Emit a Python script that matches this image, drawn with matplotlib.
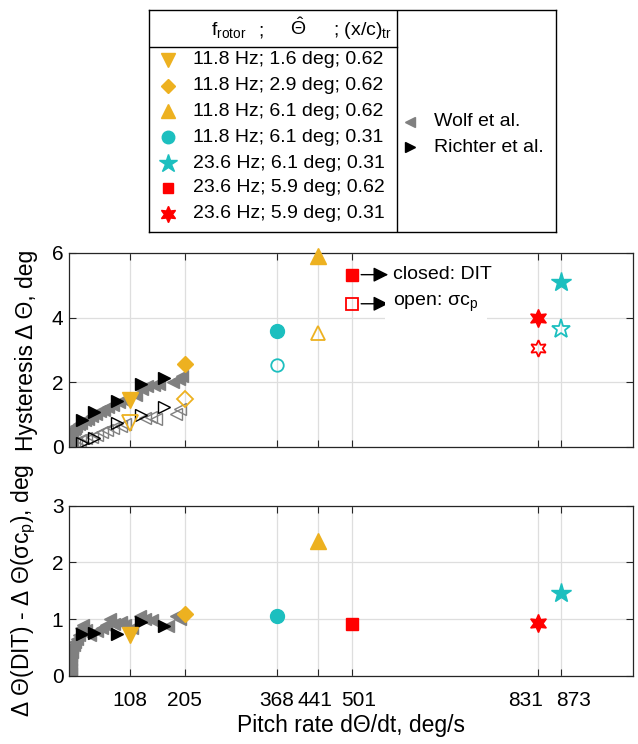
import matplotlib
matplotlib.use("Agg")
import matplotlib.pyplot as plt

plt.rcParams['font.family'] = ['Liberation Sans', 'DejaVu Sans']
plt.rcParams['mathtext.fontset'] = 'custom'
plt.rcParams['mathtext.rm'] = 'Liberation Sans'
plt.rcParams['mathtext.it'] = 'Liberation Sans:italic'

# --- data ---
cases = ["11.8 Hz; 1.6 deg; 0.62", "11.8 Hz; 2.9 deg; 0.62", "11.8 Hz; 6.1 deg; 0.62",
         "11.8 Hz; 6.1 deg; 0.31", "23.6 Hz; 6.1 deg; 0.31", "23.6 Hz; 5.9 deg; 0.62",
         "23.6 Hz; 5.9 deg; 0.31"]
case_rate = [108, 205, 441, 368, 873, 501, 831]
case_dit = [1.45, 2.57, 5.90, 3.59, 5.10, 5.33, 3.99]
case_cp = [0.73, 1.47, 3.52, 2.53, 3.65, 4.43, 3.06]
case_diff = [0.72, 1.09, 2.37, 1.05, 1.45, 0.92, 0.93]

wolf_rate_dit = [2, 3, 2, 4, 3, 5, 6, 8, 10, 13, 17, 22, 28, 34, 40, 48, 55, 62, 70, 78,
                 88, 98, 118, 130, 138, 150, 160, 185, 195, 200]
wolf_dit = [0.05, 0.12, 0.20, 0.28, 0.35, 0.42, 0.50, 0.55, 0.60, 0.65, 0.70, 0.75, 0.82,
            0.88, 0.95, 1.02, 1.10, 1.15, 1.25, 1.30, 1.38, 1.45, 1.60, 1.78, 1.88, 1.92,
            1.95, 2.02, 2.10, 2.20]
wolf_rate_cp = [3, 5, 8, 12, 20, 30, 40, 50, 58, 68, 78, 92, 100, 135, 145, 155, 190, 197]
wolf_cp = [0.05, 0.08, 0.12, 0.17, 0.22, 0.27, 0.32, 0.38, 0.45, 0.52, 0.58, 0.65, 0.70,
           0.90, 0.92, 0.88, 1.02, 1.18]
wolf_rate_diff = [3, 3, 2, 4, 3, 5, 6, 8, 10, 14, 18, 22, 25, 30, 38, 50, 58, 65, 72, 80,
                  92, 100, 112, 125, 135, 148, 175, 190, 197]
wolf_diff = [0.05, 0.12, 0.20, 0.28, 0.35, 0.42, 0.50, 0.55, 0.60, 0.65, 0.72, 0.85, 0.90,
             0.80, 0.72, 0.78, 0.84, 0.90, 1.00, 0.92, 0.95, 0.90, 0.85, 1.05, 1.00, 0.98,
             0.87, 1.06, 1.00]

richter_rate = [23, 44, 85, 127, 168]
richter_dit = [0.83, 1.09, 1.42, 1.95, 2.12]
richter_cp = [0.12, 0.29, 0.73, 0.98, 1.24]
richter_diff = [0.73, 0.75, 0.73, 0.95, 0.87]

xticks = [108, 205, 368, 441, 501, 831, 873]

# --- styles ---
orange = '#EDB120'
cyan = '#1CBFBF'
red = '#FF0000'
gray = '#808080'
case_colors = [orange, orange, orange, cyan, cyan, red, red]
case_markers = ['v', 'D', '^', 'o', '*', 's', (6, 1, 0)]
case_ms = [11, 8, 11, 10, 15, 8, 13]
case_ms_open = [11, 8, 10, 9, 14, 8, 12]
# small sideways shifts (points) so that close tick labels do not collide
label_shift = [0, 0, 0, -2, 5, -9, 9]

fig = plt.figure(figsize=(6.38, 7.44), dpi=100)
ax1 = fig.add_axes([69 / 638, 1 - 447 / 744, 564 / 638, 194 / 744])
ax2 = fig.add_axes([69 / 638, 1 - 675.7 / 744, 564 / 638, 170.1 / 744])

for ax in (ax1, ax2):
    ax.set_xlim(0, 1000)
    ax.set_xticks(xticks)
    ax.set_xticklabels([])
    ax.grid(True, color='#dedede', lw=0.9)
    ax.set_axisbelow(True)
    ax.tick_params(direction='in', length=5, width=0.8, labelsize=15, color='#262626',
                   top=True, right=True, pad=4)
    for s in ax.spines.values():
        s.set_color('#262626')
        s.set_linewidth(0.9)

# top: hysteresis
ax1.plot(wolf_rate_dit, wolf_dit, ls='none', marker='<', ms=8, color=gray, mec=gray)
ax1.plot(wolf_rate_cp, wolf_cp, ls='none', marker='<', ms=8, mfc='none', mec=gray, mew=1)
ax1.plot(richter_rate, richter_dit, ls='none', marker='>', ms=8, color='k')
ax1.plot(richter_rate, richter_cp, ls='none', marker='>', ms=8, mfc='none', mec='k', mew=1)
for i in range(len(cases)):
    ax1.plot(case_rate[i], case_dit[i], ls='none', marker=case_markers[i], ms=case_ms[i],
             color=case_colors[i], mec=case_colors[i], clip_on=False, zorder=5)
    ax1.plot(case_rate[i], case_cp[i], ls='none', marker=case_markers[i], ms=case_ms_open[i],
             mfc='none', mec=case_colors[i], mew=1.3, zorder=5)
ax1.set_ylim(0, 6)
ax1.set_yticks([0, 2, 4, 6])
ax1.set_ylabel('Hysteresis Δ Θ, deg', fontsize=16.5)
ax1.yaxis.set_label_coords(-0.055, 0.5)

arrow = dict(arrowstyle='-|>,head_length=0.6,head_width=0.3', color='k', lw=1,
             mutation_scale=15, shrinkA=0, shrinkB=0)
ax1.annotate('', xy=(566, case_dit[5]), xytext=(518, case_dit[5]), arrowprops=arrow)
ax1.annotate('', xy=(566, case_cp[5]), xytext=(518, case_cp[5]), arrowprops=arrow)
ax1.text(575, case_dit[5], 'closed: DIT', fontsize=14, va='center', ha='left')
ax1.text(575, case_cp[5], r'open: σc$_{\mathrm{p}}$', fontsize=14, va='center', ha='left',
         bbox=dict(facecolor='white', edgecolor='none', pad=6))

# bottom: difference
ax2.plot(wolf_rate_diff, wolf_diff, ls='none', marker='<', ms=8, color=gray)
ax2.plot(richter_rate, richter_diff, ls='none', marker='>', ms=8, color='k')
for i in range(len(cases)):
    ax2.plot(case_rate[i], case_diff[i], ls='none', marker=case_markers[i], ms=case_ms[i],
             color=case_colors[i], mec=case_colors[i], zorder=5)
ax2.set_ylim(0, 3)
ax2.set_yticks([0, 1, 2, 3])
ax2.set_ylabel(r'Δ Θ(DIT) - Δ Θ(σc$_{\mathrm{p}}$), deg', fontsize=16.5)
ax2.yaxis.set_label_coords(-0.055, 0.5)

# x tick labels, nudged apart where ticks are close
for t, dx in zip(xticks, label_shift):
    ax2.annotate(str(t), xy=(t, 0), xycoords=('data', 'axes fraction'),
                 xytext=(dx, -11), textcoords='offset points',
                 ha='center', va='top', fontsize=15)
ax2.set_xlabel('Pitch rate dΘ/dt, deg/s', fontsize=16.5)
ax2.xaxis.set_label_coords(0.5, -0.225)
ax2.xaxis.label.set_va('top')

# legend box (drawn in pixel-like coordinates)
lax = fig.add_axes([149 / 638, 1 - 232 / 744, 407 / 638, 222 / 744])
lax.set_xlim(149, 556)
lax.set_ylim(232, 10)
lax.set_xticks([])
lax.set_yticks([])
for s in lax.spines.values():
    s.set_color('k')
    s.set_linewidth(1)
lax.plot([149, 397], [46.7, 46.7], color='k', lw=1)
lax.plot([397, 397], [10, 232], color='k', lw=1)
lax.text(211, 35, r'f$_{\mathrm{rotor}}$', fontsize=14, va='baseline', ha='left')
lax.text(258, 35, ';', fontsize=14, va='baseline', ha='left')
lax.text(298, 35, r'$\hat{\Theta}$', fontsize=14, va='baseline', ha='center')
lax.text(333, 35, r'; (x/c)$_{\mathrm{tr}}$', fontsize=14, va='baseline', ha='left')
entry_y = [60, 86, 111, 137, 163, 188, 214]
for i in range(len(cases)):
    lax.plot(168, entry_y[i], marker=case_markers[i], ms=case_ms[i] * 0.9, color=case_colors[i],
             mec=case_colors[i], ls='none')
    lax.text(193, entry_y[i], cases[i], fontsize=14, va='center', ha='left')
lax.plot(410, 122, marker='<', ms=7, color=gray, ls='none')
lax.text(434, 122, 'Wolf et al.', fontsize=14, va='center', ha='left')
lax.plot(410, 147, marker='>', ms=7, color='k', ls='none')
lax.text(434, 147, 'Richter et al.', fontsize=14, va='center', ha='left')

fig.savefig('out.png', dpi=100)
